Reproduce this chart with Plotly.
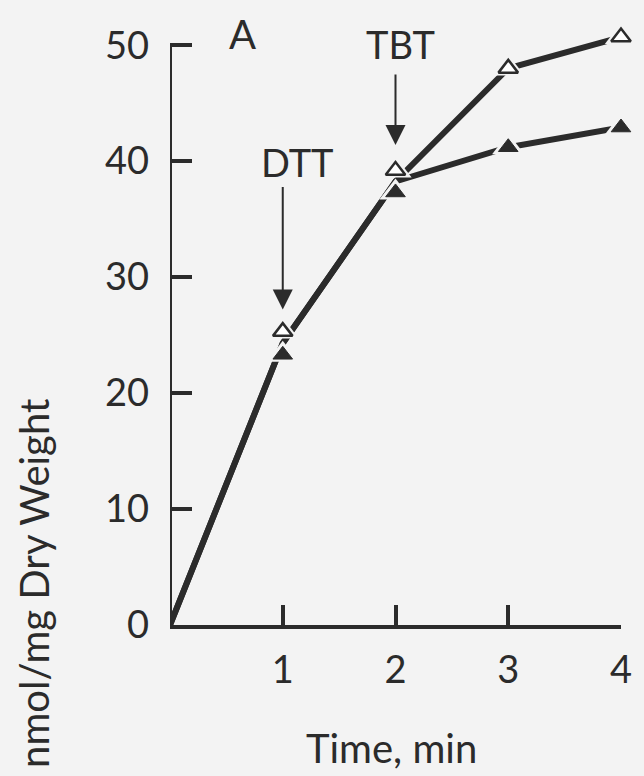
import plotly.graph_objects as go

# Uptake time course (minutes) and the two treatment series
time_min = [0, 1, 2, 3, 4]
open_series = [0.0, 25.3, 39.2, 48.0, 50.7]     # open triangles
filled_series = [0.0, 23.3, 37.3, 41.2, 42.9]   # filled triangles

y_ticks = [0, 10, 20, 30, 40, 50]
x_ticks = [1, 2, 3, 4]

INK = "#2b2b2b"
BG = "#f3f3f3"
FONT = "Lato"

# Before TBT is added (t <= 2) both treatments follow one common curve
shared = [(a + b) / 2 for a, b in zip(open_series, filled_series)]
open_line = [shared[i] if t <= 2 else open_series[i] for i, t in enumerate(time_min)]
filled_line = [shared[i] if t <= 2 else filled_series[i] for i, t in enumerate(time_min)]

fig = go.Figure()

for yl in (open_line, filled_line):
    fig.add_trace(go.Scatter(x=time_min, y=yl, mode="lines",
                             line=dict(color=INK, width=6),
                             cliponaxis=False, showlegend=False, hoverinfo="skip"))

# background halos leave a small gap between the curve and each symbol
pts_x = time_min[1:] + time_min[1:]
pts_y = open_series[1:] + filled_series[1:]
fig.add_trace(go.Scatter(x=pts_x, y=pts_y, mode="markers",
                         marker=dict(symbol="triangle-up", size=28, color=BG,
                                     line=dict(width=0)),
                         cliponaxis=False, showlegend=False, hoverinfo="skip"))

fig.add_trace(go.Scatter(x=time_min[1:], y=open_series[1:], mode="markers",
                         marker=dict(symbol="triangle-up", size=17, color="white",
                                     line=dict(color=INK, width=2.5)),
                         cliponaxis=False, showlegend=False))
fig.add_trace(go.Scatter(x=time_min[1:], y=filled_series[1:], mode="markers",
                         marker=dict(symbol="triangle-up", size=17, color=INK,
                                     line=dict(color=INK, width=1)),
                         cliponaxis=False, showlegend=False))

# reagent additions
fig.add_annotation(x=1, y=27.2, ax=1, ay=37.9, xref="x", yref="y", axref="x", ayref="y",
                   text="", showarrow=True, arrowhead=2, arrowsize=2, arrowwidth=2,
                   arrowcolor=INK)
fig.add_annotation(x=1.13, y=39.9, xref="x", yref="y", text="DTT", showarrow=False,
                   font=dict(family=FONT, size=38, color=INK))
fig.add_annotation(x=2, y=41.4, ax=2, ay=47.6, xref="x", yref="y", axref="x", ayref="y",
                   text="", showarrow=True, arrowhead=2, arrowsize=2, arrowwidth=2,
                   arrowcolor=INK)
fig.add_annotation(x=2.04, y=50.1, xref="x", yref="y", text="TBT", showarrow=False,
                   font=dict(family=FONT, size=38, color=INK))
fig.add_annotation(x=0.64, y=51.0, xref="x", yref="y", text="A", showarrow=False,
                   font=dict(family=FONT, size=40, color=INK))

# axis titles
fig.add_annotation(x=0.491, y=-0.204, xref="paper", yref="paper", text="Time, min",
                   showarrow=False, xanchor="center", yanchor="middle",
                   font=dict(family=FONT, size=40, color=INK))
fig.add_annotation(x=-0.303, y=0.378, xref="paper", yref="paper",
                   text="nmol/mg Dry Weight", textangle=-90, showarrow=False,
                   xanchor="center", yanchor="top",
                   font=dict(family=FONT, size=40, color=INK))

# vertical axis line stops at the top tick
fig.add_shape(type="line", xref="x", yref="y", x0=0, x1=0,
              y0=y_ticks[0], y1=y_ticks[-1], line=dict(color=INK, width=4))

axis_common = dict(showgrid=False, zeroline=False, ticks="inside", tickcolor=INK,
                   tickwidth=4, tickfont=dict(family=FONT, size=38, color=INK))

fig.update_xaxes(range=[0, 4], tickvals=x_ticks, ticklen=20, showline=True,
                 linecolor=INK, linewidth=4, ticklabelstandoff=8, **axis_common)
fig.update_yaxes(range=[0, 52], tickvals=y_ticks, ticklen=22, showline=False,
                 ticklabelstandoff=20, **axis_common)

fig.update_layout(width=644, height=776, autosize=False,
                  margin=dict(l=170, r=18, t=22, b=151),
                  paper_bgcolor=BG, plot_bgcolor=BG,
                  font=dict(family=FONT, color=INK), showlegend=False)

fig.write_html("out.html")
